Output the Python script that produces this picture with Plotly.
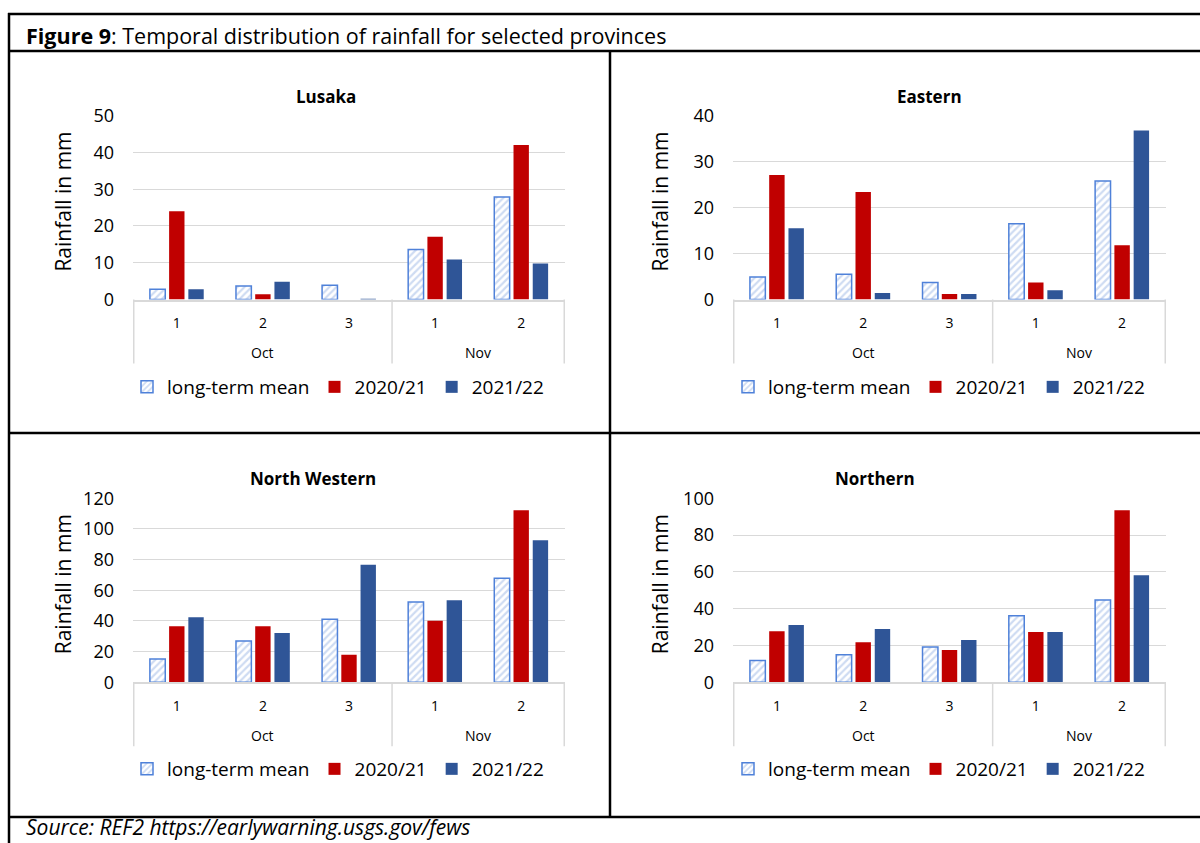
import plotly.graph_objects as go

# ---------------- data ----------------
categories = ["Oct 1", "Oct 2", "Oct 3", "Nov 1", "Nov 2"]
period_labels = ["1", "2", "3", "1", "2"]
month_labels = ["Oct", "Nov"]
series_names = ["long-term mean", "2020/21", "2021/22"]

lusaka_ltm = [2.8, 3.7, 3.9, 13.6, 27.9]
lusaka_2021 = [24.0, 1.4, 0.0, 17.1, 42.0]
lusaka_2122 = [2.8, 4.8, 0.1, 10.9, 9.8]

eastern_ltm = [4.9, 5.5, 3.7, 16.5, 25.8]
eastern_2021 = [27.1, 23.4, 1.2, 3.7, 11.8]
eastern_2122 = [15.5, 1.4, 1.2, 2.0, 36.8]

nwestern_ltm = [15.2, 27.0, 41.1, 52.4, 67.8]
nwestern_2021 = [36.5, 36.5, 18.0, 40.2, 112.2]
nwestern_2122 = [42.4, 32.2, 76.7, 53.5, 92.6]

northern_ltm = [11.8, 15.0, 19.2, 36.2, 44.7]
northern_2021 = [27.7, 21.7, 17.6, 27.4, 93.5]
northern_2122 = [31.2, 29.0, 23.0, 27.4, 58.2]

panel_titles = ["Lusaka", "Eastern", "North Western", "Northern"]
y_maxes = [50, 40, 120, 100]
y_dticks = [10, 10, 20, 20]

# ---------------- layout helpers ----------------
W, H = 1200, 843
FONT = "Open Sans"


def px(x):
    return x / W


def py(y):
    return 1 - y / H


RED = "#C00000"
BLUE = "#2F5597"
LTM_LINE = "#4F81D9"
LTM_HATCH = "#9DB8E6"

panels = [
    dict(data=(lusaka_ltm, lusaka_2021, lusaka_2122), x0=133, x1=565, ytop=115.7, y0=299.5,
         title_x=326, title_y=97, ylab_x=63, legend_x=338, legend_y=387),
    dict(data=(eastern_ltm, eastern_2021, eastern_2122), x0=733, x1=1166, ytop=115.7, y0=299.5,
         title_x=929, title_y=97, ylab_x=660, legend_x=939, legend_y=387),
    dict(data=(nwestern_ltm, nwestern_2021, nwestern_2122), x0=133, x1=565, ytop=498.3, y0=682.3,
         title_x=313, title_y=479, ylab_x=63, legend_x=338, legend_y=769),
    dict(data=(northern_ltm, northern_2021, northern_2122), x0=733, x1=1166, ytop=498.3, y0=682.3,
         title_x=875, title_y=479, ylab_x=660, legend_x=939, legend_y=769),
]

fig = go.Figure()
annotations = []
shapes = []

for i, p in enumerate(panels):
    n = i + 1
    xa = "x" if n == 1 else f"x{n}"
    ya = "y" if n == 1 else f"y{n}"
    leg = "legend" if n == 1 else f"legend{n}"
    ltm, s1, s2 = p["data"]

    fig.add_trace(go.Bar(
        x=categories, y=ltm, name=series_names[0], xaxis=xa, yaxis=ya, legend=leg,
        marker=dict(color="white", line=dict(color=LTM_LINE, width=1.5),
                    pattern=dict(shape="/", fgcolor=LTM_HATCH, bgcolor="white",
                                 size=5, solidity=0.45)),
    ))
    fig.add_trace(go.Bar(
        x=categories, y=s1, name=series_names[1], xaxis=xa, yaxis=ya, legend=leg,
        marker=dict(color=RED, line=dict(width=0)),
    ))
    fig.add_trace(go.Bar(
        x=categories, y=s2, name=series_names[2], xaxis=xa, yaxis=ya, legend=leg,
        marker=dict(color=BLUE, line=dict(width=0)),
    ))

    xkey = "xaxis" if n == 1 else f"xaxis{n}"
    ykey = "yaxis" if n == 1 else f"yaxis{n}"
    fig.update_layout(**{
        xkey: dict(
            domain=[px(p["x0"]), px(p["x1"])], anchor=ya, type="category",
            categoryorder="array", categoryarray=categories,
            tickmode="array", tickvals=categories, ticktext=period_labels,
            showgrid=False, showline=True, linecolor="#D9D9D9", linewidth=1.5,
            ticks="", ticklabelstandoff=10, automargin=False,
            tickfont=dict(family=FONT, size=14, color="#000000"),
            fixedrange=True,
        ),
        ykey: dict(
            domain=[py(p["y0"]), py(p["ytop"])], anchor=xa,
            range=[0, y_maxes[i]], dtick=y_dticks[i], tick0=0,
            showgrid=True, gridcolor="#D9D9D9", gridwidth=1.3,
            zeroline=False, showline=False, ticks="",
            ticklabelstandoff=18, automargin=False,
            tickfont=dict(family=FONT, size=18, color="#000000"),
            fixedrange=True,
        ),
        leg: dict(
            orientation="h", x=px(p["legend_x"]), xanchor="center",
            y=py(p["legend_y"]), yanchor="middle",
            font=dict(family=FONT, size=19, color="#000000"),
            bgcolor="rgba(0,0,0,0)", itemclick=False, itemdoubleclick=False,
            traceorder="normal", itemwidth=30,
        ),
    })

    # month group labels under the category axis
    month_pos = [1, 3.5]
    for m, pos in zip(month_labels, month_pos):
        annotations.append(dict(
            x=pos, y=py(p["y0"] + 53), xref=xa, yref="paper", text=m, showarrow=False,
            font=dict(family=FONT, size=14, color="#000000"), xanchor="center", yanchor="middle",
        ))
    # category box dividers
    for xv in [-0.5, 2.5, 4.5]:
        shapes.append(dict(type="line", xref=xa, yref="paper", x0=xv, x1=xv,
                           y0=py(p["y0"]), y1=py(p["y0"] + 64),
                           line=dict(color="#D9D9D9", width=1.5)))
    # panel title
    annotations.append(dict(
        x=px(p["title_x"]), y=py(p["title_y"]), xref="paper", yref="paper",
        text=f"<b>{panel_titles[i]}</b>", showarrow=False,
        font=dict(family=FONT, size=17, color="#000000"), xanchor="center", yanchor="middle",
    ))
    # y axis title
    annotations.append(dict(
        x=px(p["ylab_x"]), y=py((p["y0"] + p["ytop"]) / 2 - 6), xref="paper", yref="paper",
        text="Rainfall in mm", textangle=-90, showarrow=False,
        font=dict(family=FONT, size=21, color="#000000"), xanchor="center", yanchor="middle",
    ))

# figure caption and source
annotations.append(dict(
    x=px(24), y=py(36), xref="paper", yref="paper", xanchor="left", yanchor="middle",
    text="<b>Figure 9</b>: Temporal distribution of rainfall for selected provinces",
    showarrow=False, font=dict(family=FONT, size=21.5, color="#000000"),
))
annotations.append(dict(
    x=px(24), y=0, xref="paper", yref="paper", xanchor="left", yanchor="bottom",
    text="<i>Source: REF2 https://earlywarning.usgs.gov/fews</i>",
    showarrow=False, font=dict(family=FONT, size=21, color="#000000"),
))

# table frame lines
frame = [
    (8, 14, 1200, 14), (8, 51, 1200, 51), (8, 433, 1200, 433), (8, 817, 1200, 817),
    (9, 13, 9, 843), (610, 51, 610, 817),
]
for x0, y0, x1, y1 in frame:
    shapes.append(dict(type="line", xref="paper", yref="paper",
                       x0=px(x0), x1=px(x1), y0=py(y0), y1=py(y1),
                       line=dict(color="#000000", width=2.5)))

fig.update_layout(
    width=W, height=H, margin=dict(l=0, r=0, t=0, b=0, autoexpand=False),
    paper_bgcolor="white", plot_bgcolor="white",
    barmode="group", bargap=0.33, bargroupgap=0.2,
    annotations=annotations, shapes=shapes,
    font=dict(family=FONT, color="#000000"),
)

fig.write_html("out.html", config={"displayModeBar": False},
               post_script="document.body.style.margin='0';document.body.style.overflow='hidden';")
